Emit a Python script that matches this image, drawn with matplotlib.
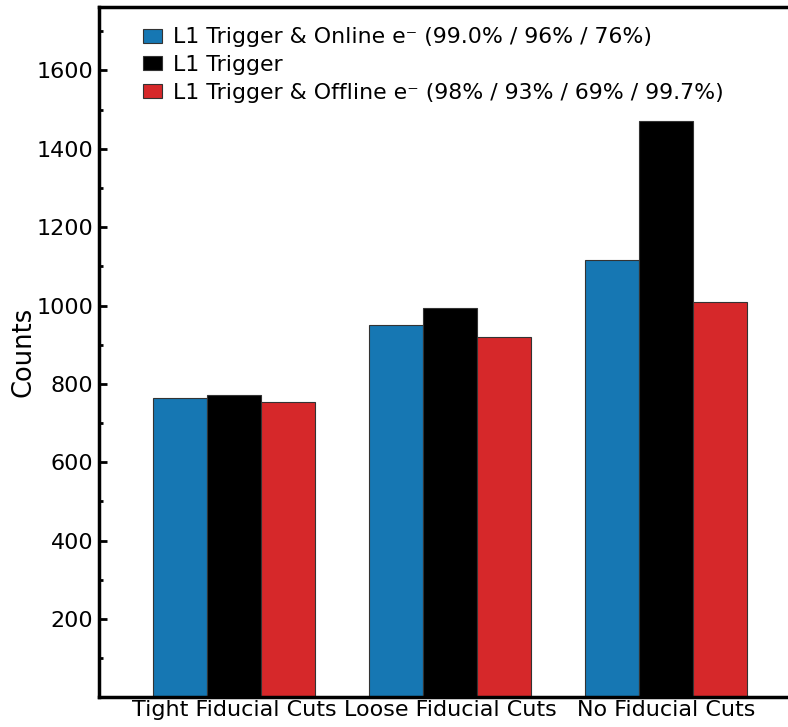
import matplotlib.pyplot as plt
import numpy as np
from matplotlib.ticker import MultipleLocator

categories = ["Tight Fiducial Cuts", "Loose Fiducial Cuts", "No Fiducial Cuts"]
online = [765, 951, 1117]
trigger = [772, 994, 1471]
offline = [754, 920, 1009]

labels = [
    "L1 Trigger & Online e\u207b (99.0% / 96% / 76%)",
    "L1 Trigger",
    "L1 Trigger & Offline e\u207b (98% / 93% / 69% / 99.7%)",
]
colors = ["#1677b3", "#000000", "#d6282a"]

fig = plt.figure(figsize=(7.88, 7.27), dpi=100)
ax = fig.add_axes([0.1256, 0.0409, 0.891, 0.9495])

x = np.arange(len(categories))
width = 0.25
for i, (vals, lab, col) in enumerate(zip([online, trigger, offline], labels, colors)):
    ax.bar(x + (i - 1) * width, vals, width, color=col, label=lab,
           edgecolor="#333333", linewidth=0.8, zorder=2)

ax.set_xlim(-0.626, 2.626)
ax.set_ylim(0, 1762)
ax.set_xticks(x)
ax.set_xticklabels(categories, fontsize=16)
ax.yaxis.set_minor_locator(MultipleLocator(100))
ax.set_yticks([200, 400, 600, 800, 1000, 1200, 1400, 1600])
ax.tick_params(axis="y", which="major", direction="in", length=6, width=2,
               labelsize=16, pad=4)
ax.tick_params(axis="y", which="minor", direction="in", length=3, width=2)
ax.tick_params(axis="x", which="major", direction="in", length=3, width=1.5,
               pad=2)
ax.set_ylabel("Counts", fontsize=18.5, labelpad=0)

ax.spines["right"].set_visible(False)
for s in ["left", "top", "bottom"]:
    ax.spines[s].set_linewidth(2.5)

ax.legend(loc="upper left", bbox_to_anchor=(0.034, 0.999), frameon=False,
          fontsize=15.8, handlelength=0.87, handleheight=0.6, handletextpad=0.5,
          labelspacing=0.35, borderaxespad=0.5)

fig.savefig("out.png", dpi=100)
